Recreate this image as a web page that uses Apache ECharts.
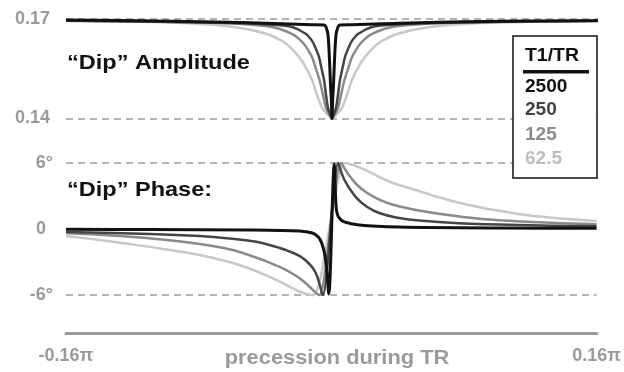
<!DOCTYPE html>
<html>
<head>
<meta charset="utf-8">
<script src="https://cdn.jsdelivr.net/npm/echarts@6/dist/echarts.min.js"></script>
<style>
  html, body { margin: 0; padding: 0; background: #fff; }
  #chart { width: 624px; height: 372px; }
</style>
</head>
<body>
<div id="chart"></div>
<script>
// Horizontal positions are precession per TR, in units of pi.

// "Dip" amplitude, one curve per T1/TR
const ampX2500 = [-0.16, -0.0782, -0.0301, -0.0120, -0.0048, -0.0036, -0.0024, -0.0015, -0.0009, -0.0004, 0, 0.0004, 0.0009, 0.0015, 0.0024, 0.0036, 0.0048, 0.0120, 0.0301, 0.0782, 0.16];
const amp2500  = [0.1697, 0.1692, 0.1686, 0.1683, 0.1682, 0.1676, 0.1652, 0.1576, 0.1501, 0.1456, 0.1400, 0.1456, 0.1501, 0.1576, 0.1652, 0.1676, 0.1682, 0.1683, 0.1686, 0.1692, 0.1695];

const ampX250 = [-0.16, -0.0602, -0.0361, -0.0241, -0.0156, -0.0120, -0.0102, -0.0078, -0.0066, -0.0048, -0.0036, -0.0024, -0.0010, 0, 0.0010, 0.0024, 0.0036, 0.0048, 0.0066, 0.0078, 0.0102, 0.0120, 0.0156, 0.0241, 0.0361, 0.0602, 0.16];
const amp250  = [0.1695, 0.1688, 0.1683, 0.1676, 0.1655, 0.1634, 0.1616, 0.1585, 0.1558, 0.1516, 0.1471, 0.1432, 0.1411, 0.1400, 0.1411, 0.1432, 0.1471, 0.1516, 0.1558, 0.1585, 0.1616, 0.1634, 0.1655, 0.1676, 0.1683, 0.1688, 0.1695];

const ampX125 = [-0.16, -0.0902, -0.0571, -0.0361, -0.0241, -0.0186, -0.0156, -0.0120, -0.0102, -0.0075, -0.0054, -0.0036, -0.0015, 0, 0.0015, 0.0036, 0.0054, 0.0075, 0.0102, 0.0120, 0.0156, 0.0186, 0.0241, 0.0361, 0.0571, 0.0902, 0.16];
const amp125  = [0.1695, 0.1691, 0.1686, 0.1676, 0.1655, 0.1634, 0.1616, 0.1585, 0.1558, 0.1516, 0.1471, 0.1432, 0.1411, 0.1400, 0.1411, 0.1432, 0.1471, 0.1516, 0.1558, 0.1585, 0.1616, 0.1634, 0.1655, 0.1676, 0.1686, 0.1691, 0.1695];

const ampX62 = [-0.16, -0.0902, -0.0589, -0.0391, -0.0301, -0.0253, -0.0198, -0.0162, -0.0120, -0.0090, -0.0060, -0.0024, 0, 0.0024, 0.0060, 0.0090, 0.0120, 0.0162, 0.0198, 0.0253, 0.0301, 0.0391, 0.0589, 0.0902, 0.16];
const amp62  = [0.1696, 0.1688, 0.1676, 0.1655, 0.1634, 0.1616, 0.1585, 0.1558, 0.1516, 0.1471, 0.1432, 0.1411, 0.1400, 0.1411, 0.1432, 0.1471, 0.1516, 0.1558, 0.1585, 0.1616, 0.1634, 0.1655, 0.1676, 0.1688, 0.1695];

// "Dip" phase in degrees, one curve per T1/TR
const phX2500 = [-0.16, -0.1095, -0.0493, -0.0192, -0.0114, -0.0084, -0.0066, -0.0048, -0.0036, -0.0024, -0.0015, 0.0018, 0.0027, 0.0033, 0.0048, 0.0078, 0.0168, 0.0409, 0.1011, 0.16];
const ph2500  = [-0.03, -0.05, -0.09, -0.18, -0.36, -0.64, -1.0, -1.73, -2.64, -4.2, -5.9, 5.9, 2.6, 1.55, 1.0, 0.64, 0.36, 0.18, 0.09, 0.07];

const phX250 = [-0.16, -0.1095, -0.0794, -0.0614, -0.0463, -0.0373, -0.0283, -0.0192, -0.0132, -0.0102, -0.0084, -0.0069, -0.0060, -0.0051,
                0.0042, 0.0060, 0.0078, 0.0108, 0.0156, 0.0217, 0.0289, 0.0391, 0.0529, 0.0770, 0.1131, 0.16];
const ph250  = [-0.27, -0.45, -0.64, -0.86, -1.14, -1.45, -1.86, -2.45, -3.18, -3.77, -4.36, -5.09, -5.64, -6.0,
                6.0, 5.18, 4.5, 3.73, 2.77, 2.0, 1.45, 1.05, 0.77, 0.52, 0.36, 0.25];

const phX125 = [-0.16, -0.1275, -0.0992, -0.0794, -0.0595, -0.0463, -0.0373, -0.0283, -0.0211, -0.0162, -0.0126, -0.0102, -0.0084, -0.0072,
                0.0060, 0.0084, 0.0108, 0.0156, 0.0217, 0.0289, 0.0379, 0.0529, 0.0728, 0.0950, 0.1251, 0.16];
const ph125  = [-0.36, -0.64, -1.0, -1.36, -1.91, -2.55, -3.05, -3.64, -4.27, -4.82, -5.32, -5.68, -5.91, -6.0,
                6.0, 5.41, 4.86, 4.0, 3.27, 2.68, 2.18, 1.68, 1.23, 0.86, 0.61, 0.43];

const phX62 = [-0.16, -0.1396, -0.1197, -0.0992, -0.0794, -0.0614, -0.0493, -0.0403, -0.0313, -0.0253, -0.0205, -0.0168, -0.0138, -0.0108,
               0.0084, 0.0120, 0.0156, 0.0211, 0.0289, 0.0361, 0.0439, 0.0529, 0.0632, 0.0728, 0.0830, 0.0932, 0.1131, 0.1329, 0.16];
const ph62  = [-0.64, -1.0, -1.41, -1.86, -2.36, -3.0, -3.59, -4.14, -4.77, -5.23, -5.59, -5.82, -5.95, -6.0,
               6.0, 5.86, 5.68, 5.32, 4.73, 4.23, 3.86, 3.45, 2.95, 2.55, 2.18, 1.86, 1.36, 1.03, 0.73];

// Legend entries (T1/TR), drawing colours and tick labels
const ratioLabels = ['2500', '250', '125', '62.5'];
const curveColors = ['#111111', '#454545', '#8a8a8a', '#c8c8c8'];
const legendColors = ['#111111', '#444444', '#8a8a8a', '#bdbdbd'];
const ampTickLabels = ['0.17', '0.14'];
const phaseTickLabels = ['6°', '0', '-6°'];
const xTickLabels = ['-0.16π', '0.16π'];

const FONT = '"Liberation Sans", Arial, Helvetica, sans-serif';
const GRAY = '#9a9a9a';

const pairs = (xs, ys) => xs.map((x, i) => [x, ys[i]]);

const ampSets = [[ampX2500, amp2500], [ampX250, amp250], [ampX125, amp125], [ampX62, amp62]];
const phSets  = [[phX2500, ph2500], [phX250, ph250], [phX125, ph125], [phX62, ph62]];

const tickLabelStyle = { color: GRAY, fontSize: 18, fontWeight: 'bold', fontFamily: FONT };

function curve(idx, gridIdx, set, width) {
  return {
    name: ratioLabels[idx],
    type: 'line',
    xAxisIndex: gridIdx,
    yAxisIndex: gridIdx,
    data: pairs(set[0], set[1]),
    showSymbol: false,
    symbol: 'none',
    smooth: 0.3,
    clip: false,
    lineStyle: { color: curveColors[idx], width: width, join: 'round' },
    z: 10 - idx,
    animation: false
  };
}

function refLines(gridIdx, values) {
  return {
    type: 'line',
    xAxisIndex: gridIdx,
    yAxisIndex: gridIdx,
    data: [],
    animation: false,
    z: 1,
    markLine: {
      silent: true,
      symbol: 'none',
      label: { show: false },
      lineStyle: { type: [7, 5], color: GRAY, width: 1.5 },
      data: values.map(v => ({ yAxis: v })),
      animation: false
    }
  };
}

const series = [refLines(0, [0.17, 0.14]), refLines(1, [6, -6])];
// lighter curves underneath, the darkest on top
for (let i = 3; i >= 0; i--) {
  series.push(curve(i, 0, ampSets[i], i === 0 ? 3 : 2.5));
  series.push(curve(i, 1, phSets[i], i === 0 ? 3 : 2.5));
}

function txt(x, y, text, size, color, align, scaleX, z) {
  return {
    type: 'text', x: x, y: y, scaleX: scaleX, z: z || 50,
    style: {
      text: text, fill: color,
      font: 'bold ' + size + 'px ' + FONT,
      align: align, textAlign: align,
      verticalAlign: 'middle', textVerticalAlign: 'middle'
    }
  };
}

const graphic = [
  txt(67, 63, '“Dip” Amplitude', 21, '#111', 'left', 1.12),
  txt(67, 190, '“Dip” Phase:', 21, '#111', 'left', 1.12),
  txt(337, 358.5, 'precession during TR', 19.5, GRAY, 'center', 1.12),
  { type: 'rect', z: 100, shape: { x: 513, y: 36, width: 84, height: 142 },
    style: { fill: '#fff', stroke: '#111', lineWidth: 1.5 } },
  txt(525, 56, 'T1/TR', 18, '#111', 'left', 1.08, 101),
  { type: 'rect', z: 101, shape: { x: 523, y: 70, width: 66, height: 3.5 }, style: { fill: '#111' } },
  txt(525, 87, ratioLabels[0], 18, legendColors[0], 'left', 1.06, 101),
  txt(525, 110.5, ratioLabels[1], 18, legendColors[1], 'left', 1.06, 101),
  txt(525, 135, ratioLabels[2], 18, legendColors[2], 'left', 1.06, 101),
  txt(525, 159, ratioLabels[3], 18, legendColors[3], 'left', 1.06, 101)
];

const chart = echarts.init(document.getElementById('chart'), null, { renderer: 'canvas' });
chart.setOption({
  backgroundColor: '#fff',
  animation: false,
  grid: [
    { left: 66, width: 532, top: 19, height: 99.5 },
    { left: 66, width: 532, top: 163, height: 132 }
  ],
  xAxis: [
    { gridIndex: 0, type: 'value', min: -0.16, max: 0.16, show: false },
    {
      gridIndex: 1, type: 'value', min: -0.16, max: 0.16, interval: 0.16,
      offset: 38,
      axisLine: { show: true, onZero: false, lineStyle: { color: GRAY, width: 3 } },
      axisTick: { show: false },
      splitLine: { show: false },
      axisLabel: Object.assign({
        margin: 14,
        showMinLabel: true, showMaxLabel: true,
        formatter: v => (v < -0.1 ? xTickLabels[0] : (v > 0.1 ? xTickLabels[1] : ''))
      }, tickLabelStyle)
    }
  ],
  yAxis: [
    {
      gridIndex: 0, type: 'value', min: 0.14, max: 0.17, interval: 0.01,
      axisLine: { show: false }, axisTick: { show: false }, splitLine: { show: false },
      axisLabel: Object.assign({
        margin: 16,
        formatter: v => (Math.abs(v - 0.17) < 1e-6 ? ampTickLabels[0] : (Math.abs(v - 0.14) < 1e-6 ? ampTickLabels[1] : ''))
      }, tickLabelStyle)
    },
    {
      gridIndex: 1, type: 'value', min: -6, max: 6, interval: 6,
      axisLine: { show: false }, axisTick: { show: false }, splitLine: { show: false },
      axisLabel: Object.assign({
        margin: 13,
        formatter: v => (v > 0 ? phaseTickLabels[0] : (v < 0 ? phaseTickLabels[2] : '{z|' + phaseTickLabels[1] + '}')),
        rich: { z: Object.assign({ padding: [0, 7, 0, 0] }, tickLabelStyle) }
      }, tickLabelStyle)
    }
  ],
  series: series,
  graphic: graphic
});
</script>
</body>
</html>
